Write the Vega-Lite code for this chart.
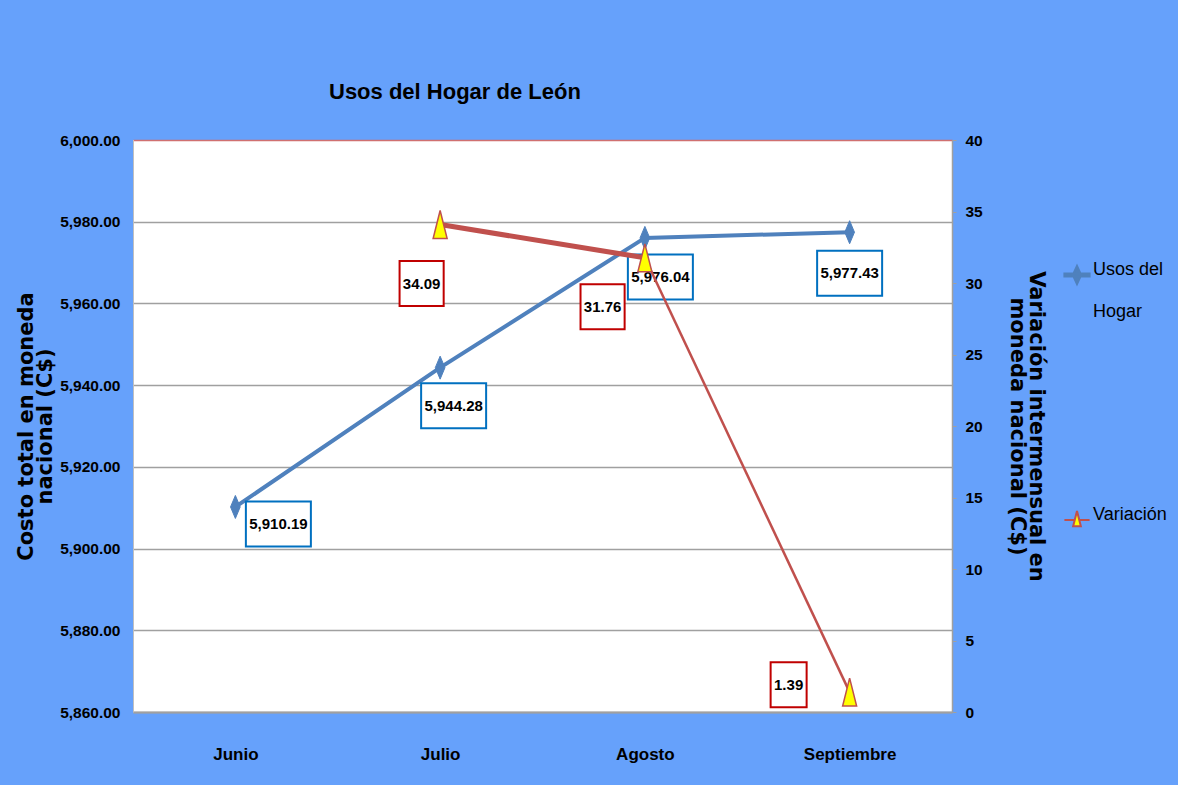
{
  "$schema": "https://vega.github.io/schema/vega-lite/v6.json",
  "width": 819,
  "height": 572,
  "autosize": "none",
  "padding": {"left": 133, "top": 140, "right": 226, "bottom": 73},
  "background": "#66A1FB",
  "view": {"fill": "white", "stroke": null},
  "config": {"style": {"guide-label": {"lineHeight": 42}}},
  "title": {
    "text": "Usos del Hogar de León",
    "anchor": "start",
    "frame": "group",
    "dx": 196,
    "offset": 12,
    "baseline": "alphabetic",
    "font": "Liberation Sans",
    "fontSize": 22,
    "fontWeight": "bold",
    "color": "black"
  },
  "data": {
    "values": [
      {"month": "Junio", "usos": 5910.19, "var": null},
      {"month": "Julio", "usos": 5944.28, "var": 34.09},
      {"month": "Agosto", "usos": 5976.04, "var": 31.76},
      {"month": "Septiembre", "usos": 5977.43, "var": 1.39}
    ]
  },
  "encoding": {
    "x": {
      "field": "month",
      "type": "ordinal",
      "sort": ["Junio", "Julio", "Agosto", "Septiembre"],
      "scale": {"type": "point", "padding": 0.5},
      "axis": {
        "title": null,
        "labelAngle": 0,
        "labelFont": "Liberation Sans",
        "labelFontSize": 17,
        "labelFontWeight": "bold",
        "labelColor": "black",
        "labelPadding": 34,
        "ticks": false,
        "domainColor": "#A0A0A0",
        "domainWidth": 2,
        "grid": false
      }
    }
  },
  "layer": [
    {
      "encoding": {
        "y": {
          "field": "usos",
          "type": "quantitative",
          "scale": {"domain": [5860, 6000], "nice": false, "zero": false},
          "axis": {
            "orient": "left",
            "values": [5860, 5880, 5900, 5920, 5940, 5960, 5980, 6000],
            "format": ",.2f",
            "labelFont": "Liberation Sans",
            "labelFontSize": 15.5,
            "labelFontWeight": "bold",
            "labelColor": "black",
            "labelPadding": 13,
            "labelFlush": false,
            "labelOverlap": false,
            "ticks": false,
            "domainColor": "#BFBFBF",
            "grid": true,
            "gridColor": {"condition": {"test": "datum.value == 6000", "value": "#D07070"}, "value": "#A0A0A0"},
            "gridWidth": 1.5,
            "title": ["Costo total en moneda", "nacional (C$)"],
            "titleFont": "DejaVu Sans",
            "titleFontSize": 21,
            "titleFontWeight": "bold",
            "titleColor": "black",
            "titlePadding": 4,
            "titleLineHeight": 19
          }
        }
      },
      "layer": [
        {
          "transform": [{"filter": "false"}],
          "mark": {"type": "point", "filled": true, "opacity": 1},
          "encoding": {
            "shape": {
              "datum": "Usos del Hogar",
              "scale": {
                "domain": ["Usos del Hogar", "Variación"],
                "range": [
                  "M-1.8,-0.22H1.8V0.22H-1.8Z M0,-1.3L0.6,0L0,1.3L-0.6,0Z",
                  "M-1.8,0H-0.3M0.3,0H1.8 M0,-1.3L0.55,0.9L-0.55,0.9Z"
                ]
              },
              "legend": {
                "title": null,
                "orient": "none",
                "legendX": 935,
                "legendY": 126,
                "symbolSize": 196,
                "symbolStrokeWidth": 2,
                "symbolOpacity": 1,
                "labelFont": "Liberation Sans",
                "labelFontSize": 18,
                "labelColor": "black",
                "labelOffset": 7,
                "labelLimit": 200,
                "labelBaseline": "alphabetic",
                "rowPadding": 185,
                "labelExpr": "datum.label == 'Usos del Hogar' ? ['Usos del', 'Hogar'] : datum.label",
                "encode": {
                  "symbols": {
                    "strokeWidth": {"condition": {"test": "datum.value == 'Usos del Hogar'", "value": 1}, "value": 2.5}
                  }
                }
              }
            },
            "fill": {
              "datum": "Usos del Hogar",
              "scale": {"domain": ["Usos del Hogar", "Variación"], "range": ["#4F81BD", "#FFFF00"]},
              "legend": null
            },
            "stroke": {
              "datum": "Usos del Hogar",
              "scale": {"domain": ["Usos del Hogar", "Variación"], "range": ["#4F81BD", "#C0504D"]},
              "legend": null
            }
          }
        },
        {
          "mark": {"type": "line", "color": "#4F81BD", "strokeWidth": 4}
        },
        {
          "mark": {
            "type": "point",
            "shape": "M0,-1L0.42,0L0,1L-0.42,0Z",
            "filled": true,
            "size": 529,
            "opacity": 1,
            "fill": "#4F81BD",
            "stroke": "#4F81BD",
            "strokeWidth": 1
          }
        },
        {
          "mark": {
            "type": "point",
            "shape": "M-1,-0.692H1V0.692H-1Z",
            "size": 4225,
            "filled": true,
            "fill": "white",
            "stroke": "#0070C0",
            "strokeWidth": 2,
            "opacity": 1,
            "xOffset": {"expr": "datum.month == 'Junio' ? 43 : datum.month == 'Julio' ? 13.5 : datum.month == 'Agosto' ? 15.5 : 0"},
            "yOffset": {"expr": "datum.month == 'Junio' ? 17 : datum.month == 'Julio' ? 38 : datum.month == 'Agosto' ? 39 : 41"}
          }
        },
        {
          "mark": {
            "type": "text",
            "font": "Liberation Sans",
            "fontSize": 15,
            "fontWeight": "bold",
            "color": "black",
            "align": "center",
            "baseline": "middle",
            "dx": {"expr": "datum.month == 'Junio' ? 43 : datum.month == 'Julio' ? 13.5 : datum.month == 'Agosto' ? 15.5 : 0"},
            "dy": {"expr": "datum.month == 'Junio' ? 17 : datum.month == 'Julio' ? 38 : datum.month == 'Agosto' ? 39 : 41"}
          },
          "encoding": {"text": {"field": "usos", "type": "quantitative", "format": ",.2f"}}
        }
      ]
    },
    {
      "transform": [{"filter": "isValid(datum.var)"}],
      "encoding": {
        "y": {
          "field": "var",
          "type": "quantitative",
          "scale": {"domain": [0, 40], "nice": false},
          "axis": {
            "orient": "right",
            "values": [0, 5, 10, 15, 20, 25, 30, 35, 40],
            "labelFont": "Liberation Sans",
            "labelFontSize": 15.5,
            "labelFontWeight": "bold",
            "labelColor": "black",
            "labelPadding": 9,
            "labelFlush": false,
            "labelOverlap": false,
            "ticks": true,
            "tickColor": "#A0A0A0",
            "tickSize": 4,
            "domainColor": "#A0A0A0",
            "domainWidth": 1.5,
            "grid": false,
            "title": ["Variación intermensual en", "moneda nacional (C$)"],
            "titleFont": "DejaVu Sans",
            "titleFontSize": 21,
            "titleFontWeight": "bold",
            "titleColor": "black",
            "titlePadding": 24,
            "titleLineHeight": 19
          }
        }
      },
      "layer": [
        {
          "transform": [{"filter": "datum.month == 'Julio' || datum.month == 'Agosto'"}],
          "mark": {"type": "line", "color": "#C0504D", "strokeWidth": 5}
        },
        {
          "transform": [{"filter": "datum.month == 'Agosto' || datum.month == 'Septiembre'"}],
          "mark": {"type": "line", "color": "#C0504D", "strokeWidth": 2.5}
        },
        {
          "mark": {
            "type": "point",
            "shape": "M0,-1L0.5,1L-0.5,1Z",
            "filled": true,
            "size": 784,
            "opacity": 1,
            "fill": "#FFFF00",
            "stroke": "#C0504D",
            "strokeWidth": 1.5
          }
        },
        {
          "mark": {
            "type": "point",
            "shape": {"expr": "datum['var'] < 10 ? 'M-0.8,-1H0.8V1H-0.8Z' : 'M-0.98,-1H0.98V1H-0.98Z'"},
            "size": 2025,
            "filled": true,
            "fill": "white",
            "stroke": "#C00000",
            "strokeWidth": 2,
            "opacity": 1,
            "xOffset": {"expr": "datum.month == 'Julio' ? -18.5 : datum.month == 'Agosto' ? -42.3 : -61"},
            "yOffset": {"expr": "datum.month == 'Julio' ? 59 : datum.month == 'Agosto' ? 49 : -7.4"}
          }
        },
        {
          "mark": {
            "type": "text",
            "font": "Liberation Sans",
            "fontSize": 15,
            "fontWeight": "bold",
            "color": "black",
            "align": "center",
            "baseline": "middle",
            "dx": {"expr": "datum.month == 'Julio' ? -18.5 : datum.month == 'Agosto' ? -42.3 : -61"},
            "dy": {"expr": "datum.month == 'Julio' ? 59 : datum.month == 'Agosto' ? 49 : -7.4"}
          },
          "encoding": {"text": {"field": "var", "type": "quantitative", "format": ".2f"}}
        }
      ]
    }
  ],
  "resolve": {"scale": {"y": "independent"}}
}
